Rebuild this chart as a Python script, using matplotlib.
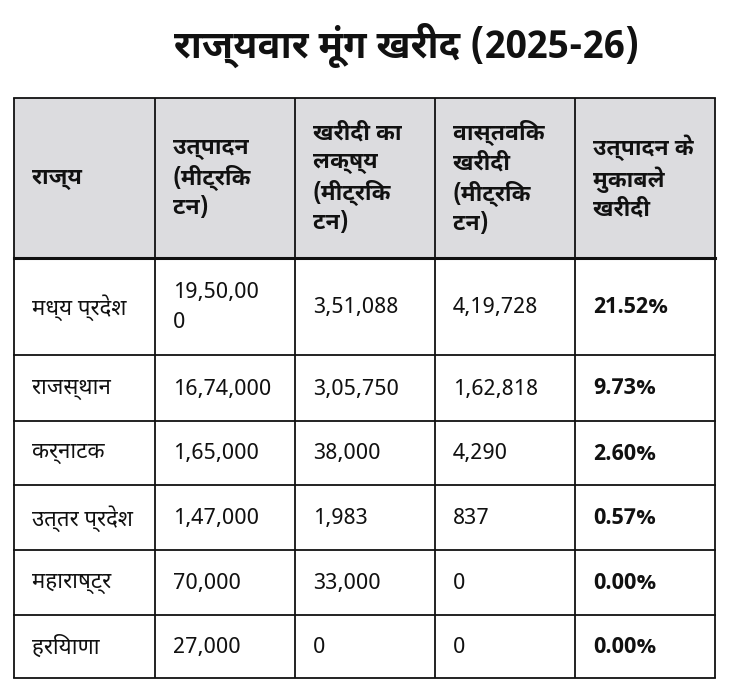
import matplotlib
matplotlib.use("Agg")
import matplotlib.pyplot as plt
from matplotlib.patches import Rectangle

# ---- data ----
title = "राज्यवार मूंग खरीद (2025-26)"
headers = ["राज्य", "उत्पादन\n(मीट्रिक\nटन)", "खरीदी का\nलक्ष्य\n(मीट्रिक\nटन)",
           "वास्तविक\nखरीदी\n(मीट्रिक\nटन)", "उत्पादन के\nमुकाबले\nखरीदी"]
states = ["मध्य प्रदेश", "राजस्थान", "कर्नाटक", "उत्तर प्रदेश", "महाराष्ट्र", "हरियाणा"]
production = ["19,50,00\n0", "16,74,000", "1,65,000", "1,47,000", "70,000", "27,000"]
target = ["3,51,088", "3,05,750", "38,000", "1,983", "33,000", "0"]
actual = ["4,19,728", "1,62,818", "4,290", "837", "0", "0"]
share = ["21.52%", "9.73%", "2.60%", "0.57%", "0.00%", "0.00%"]

# ---- layout (pixels) ----
W, H = 730, 698
col_x = [14, 155, 295, 435, 575, 715]
row_y = [98, 258, 355, 421, 485, 550, 615, 678]
pad = 18

REG = ["Noto Sans Devanagari", "Noto Sans", "DejaVu Sans"]
BOLD = ["Noto Sans Devanagari UI", "Noto Sans", "DejaVu Sans"]
INK = "#111111"

fig = plt.figure(figsize=(W / 100, H / 100), dpi=100)
ax = fig.add_axes([0, 0, 1, 1])
ax.set_xlim(0, W)
ax.set_ylim(H, 0)
ax.axis("off")

ax.text(407, 45, title, ha="center", va="center", fontsize=27.5, weight="bold",
        family=BOLD, color=INK)

# header background
ax.add_patch(Rectangle((col_x[0], row_y[0]), col_x[-1] - col_x[0], row_y[1] - row_y[0],
                       facecolor="#dcdcdf", edgecolor="none", zorder=0))

# header texts
hc = (row_y[0] + row_y[1]) / 2
for j, h in enumerate(headers):
    ax.text(col_x[j] + pad, hc, h, ha="left", va="center", fontsize=16.5, weight="bold",
            family=BOLD, color=INK, linespacing=1.28)

columns = [states, production, target, actual, share]
for i in range(len(states)):
    yc = (row_y[i + 1] + row_y[i + 2]) / 2
    for j, col in enumerate(columns):
        bold = j == 4
        ax.text(col_x[j] + pad, yc + 1, col[i], ha="left", va="center", fontsize=16,
                weight="bold" if bold else "normal", family=BOLD if bold else REG,
                color=INK, linespacing=1.6)

# grid lines
lw = 1.3
for x in col_x:
    ax.plot([x, x], [row_y[0], row_y[-1]], color=INK, lw=lw, solid_capstyle="butt")
for k, y in enumerate(row_y):
    ax.plot([col_x[0], col_x[-1]], [y, y], color=INK, lw=2.2 if k == 1 else lw,
            solid_capstyle="projecting")

fig.savefig("out.png", dpi=100, facecolor="white")
